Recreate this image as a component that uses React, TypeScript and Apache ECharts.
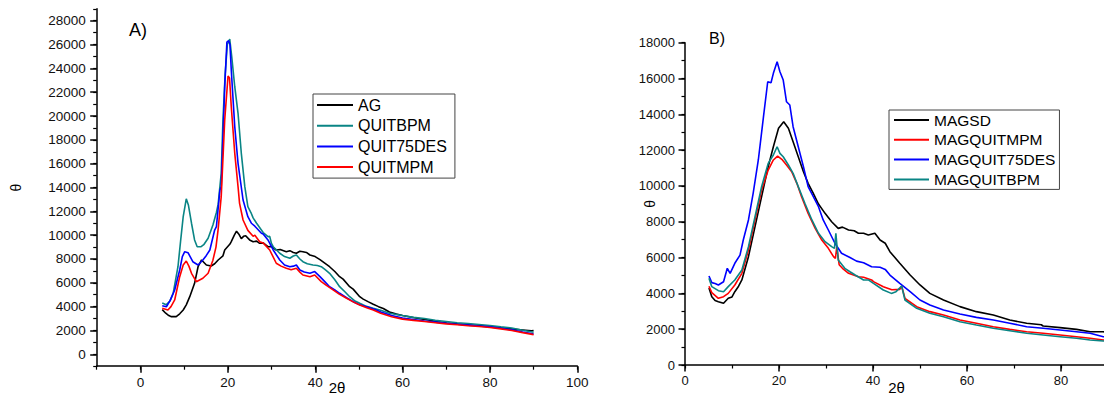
import React, { useEffect, useRef } from "react";
import * as echarts from "echarts";

// ---------- Panel A data ----------
const AG: [number, number][] = [
  [5.0, 3750], [5.8, 3450], [6.5, 3250], [7.1, 3160], [8.2, 3160], [9.0, 3400], [9.8, 3720], [10.5, 4150],
  [11.3, 4835], [12.4, 5955], [13.2, 7350], [14.0, 7915], [15.1, 7495], [16.2, 7410], [17.0, 7600], [17.8, 7915],
  [18.9, 8265], [19.3, 8755], [20.5, 9250], [20.8, 9450], [21.5, 10000], [22.0, 10330], [22.6, 10050], [23.1, 9700],
  [23.6, 9900], [24.1, 9950], [25.0, 9600], [25.8, 9450], [26.6, 9500], [27.3, 9315], [28.1, 9350], [29.2, 9030],
  [30.0, 9050], [31.1, 8755], [32.0, 8800], [33.4, 8610], [34.2, 8700], [35.0, 8550], [35.7, 8480], [36.5, 8650],
  [37.2, 8610], [38.0, 8550], [38.8, 8335], [40.0, 8200], [41.1, 7950], [42.2, 7650], [43.3, 7350], [44.5, 6950],
  [45.6, 6515], [46.4, 6310], [47.9, 5675], [48.7, 5470], [50.2, 4835], [51.0, 4630], [52.2, 4400], [53.3, 4200],
  [54.5, 4000], [55.6, 3845], [57.0, 3550], [58.6, 3370], [60.0, 3250], [62.4, 3090], [64.0, 2980], [66.3, 2850],
  [68.0, 2720], [70.1, 2620], [72.0, 2560], [73.9, 2500], [75.5, 2460], [77.7, 2390], [79.5, 2330], [81.5, 2250],
  [83.5, 2180], [85.3, 2120], [87.5, 2040], [89.5, 1970], [90.0, 2000],
];
const QUITBPM: [number, number][] = [
  [5.0, 4300], [5.9, 4150], [6.8, 4500], [7.5, 5120], [8.6, 7350], [9.2, 9500], [9.8, 11550], [10.5, 13050],
  [11.0, 12500], [11.7, 11000], [12.4, 9600], [13.0, 9030], [13.9, 9030], [14.5, 9200], [15.5, 9735], [16.6, 10850],
  [17.4, 11900], [17.8, 12600], [18.5, 15190], [18.9, 19665], [19.4, 23500], [19.9, 26000], [20.45, 26450], [20.9, 25000],
  [21.6, 22460], [22.35, 20230], [23.1, 16870], [23.9, 14070], [24.6, 12390], [25.3, 11900], [25.8, 11450], [26.6, 10995],
  [28.1, 10220], [29.2, 9870], [29.6, 9900], [30.0, 9300], [30.4, 9030], [31.9, 8480], [33.0, 8200], [34.2, 8060],
  [35.0, 8250], [35.7, 8335], [36.5, 8000], [37.2, 7770], [38.2, 7600], [39.5, 7495], [40.5, 7450], [41.4, 7350],
  [42.3, 7100], [43.3, 6800], [44.5, 6250], [45.6, 5675], [46.8, 5250], [47.9, 4835], [49.0, 4500], [50.2, 4280],
  [51.5, 4050], [53.3, 3860], [55.0, 3700], [57.0, 3450], [60.0, 3250], [62.5, 3100], [65.0, 3000], [67.5, 2850],
  [70.0, 2750], [72.5, 2650], [75.0, 2580], [77.5, 2500], [80.0, 2420], [82.5, 2300], [85.0, 2200], [87.5, 2020],
  [90.0, 1850],
];
const QUIT75DES: [number, number][] = [
  [5.0, 4080], [5.95, 3990], [6.8, 4500], [7.85, 5400], [9.0, 7075], [9.6, 8200], [10.15, 8610], [10.9, 8530],
  [12.0, 7770], [13.2, 7495], [14.3, 7915], [15.1, 8300], [15.9, 8755], [17.0, 10430], [17.4, 10710], [18.2, 13790],
  [18.5, 14070], [19.3, 22460], [19.8, 26200], [20.2, 26320], [20.5, 26000], [20.8, 23860], [21.6, 19100], [22.35, 16030],
  [23.5, 12950], [24.6, 11550], [25.4, 11000], [26.2, 10750], [27.7, 10155], [28.1, 10100], [29.2, 9595], [30.4, 8755],
  [31.9, 7915], [33.0, 7500], [34.2, 7350], [35.0, 7400], [35.7, 7495], [36.5, 7075], [37.5, 6900], [38.8, 6800],
  [39.9, 6940], [41.1, 6515], [42.2, 6100], [43.3, 5675], [44.5, 5400], [45.6, 5120], [47.2, 4750], [48.7, 4415],
  [50.2, 4150], [51.8, 3995], [54.0, 3720], [55.0, 3550], [57.5, 3250], [60.0, 3050], [62.5, 2920], [65.0, 2800],
  [67.5, 2700], [70.0, 2600], [72.5, 2520], [75.0, 2450], [77.5, 2380], [80.0, 2300], [82.5, 2180], [85.0, 2050],
  [87.5, 1870], [90.0, 1700],
];
const QUITMPM: [number, number][] = [
  [5.0, 3860], [6.3, 3720], [7.0, 4000], [7.85, 4560], [9.0, 6515], [9.8, 7500], [10.5, 7830], [11.1, 7400],
  [11.7, 6800], [12.8, 6095], [14.3, 6380], [15.5, 6800], [16.6, 7900], [17.3, 9000], [17.8, 10500], [18.5, 13230],
  [19.3, 19665], [20.06, 23360], [20.4, 23200], [20.8, 20780], [21.6, 16870], [22.35, 14070], [22.7, 12670], [23.5, 11270],
  [24.6, 10400], [25.8, 9900], [26.2, 10000], [27.3, 9450], [28.1, 9350], [29.6, 8755], [31.1, 7640], [32.2, 7400],
  [33.4, 7220], [34.5, 7100], [35.7, 7220], [36.5, 6900], [37.2, 6655], [38.8, 6515], [39.9, 6655], [41.4, 6095],
  [42.5, 5800], [44.1, 5400], [45.5, 5050], [47.2, 4700], [48.7, 4400], [50.2, 4140], [51.8, 3900], [53.3, 3720],
  [55.0, 3450], [57.5, 3150], [60.0, 2950], [62.5, 2850], [65.0, 2750], [67.5, 2650], [70.0, 2550], [72.5, 2480],
  [75.0, 2400], [77.5, 2330], [80.0, 2250], [82.5, 2130], [85.0, 2000], [87.5, 1820], [90.0, 1650],
];

// ---------- Panel B data ----------
const MAGSD: [number, number][] = [
  [5.1, 4300], [5.7, 3815], [6.4, 3600], [7.1, 3535], [8.2, 3445], [9.2, 3725], [10.0, 3800], [10.6, 4095],
  [11.4, 4400], [12.1, 4750], [13.5, 6050], [14.9, 7725], [16.3, 9400], [17.7, 11070], [18.8, 12190], [19.9, 13220],
  [21.0, 13590], [22.0, 13220], [23.0, 12470], [24.1, 11630], [25.2, 10795], [26.2, 10145], [27.3, 9590], [28.4, 8990],
  [29.8, 8470], [31.2, 8000], [32.6, 7630], [33.5, 7700], [34.8, 7540], [36.0, 7500], [36.9, 7355], [38.0, 7355],
  [39.0, 7260], [40.4, 7355], [41.5, 6980], [42.6, 6800], [43.6, 6330], [45.7, 5680], [47.9, 5025], [50.0, 4470],
  [52.1, 4000], [55.0, 3630], [58.5, 3260], [62.0, 2980], [65.6, 2790], [69.1, 2510], [72.7, 2330], [75.8, 2250],
  [76.2, 2180], [79.8, 2085], [83.3, 1990], [86.2, 1860], [89.0, 1860], [90.0, 1800],
];
const MAGQUITMPM: [number, number][] = [
  [5.1, 4400], [5.7, 4040], [7.1, 3725], [8.2, 3815], [9.2, 4000], [10.6, 4470], [12.1, 5120], [13.5, 6420],
  [14.9, 8100], [16.3, 9775], [17.7, 10890], [18.8, 11450], [19.7, 11670], [20.6, 11490], [21.6, 11170], [22.7, 10795],
  [23.8, 10145], [24.8, 9400], [26.2, 8470], [27.7, 7630], [29.1, 6980], [30.5, 6515], [31.6, 6050], [32.0, 5950],
  [32.3, 6600], [32.8, 5600], [33.5, 5400], [34.8, 5120], [36.9, 4930], [38.0, 4900], [39.7, 4750], [40.1, 4655],
  [42.2, 4375], [44.0, 4200], [45.7, 4225], [46.1, 4400], [46.8, 3725], [49.3, 3260], [52.1, 2980], [55.0, 2790],
  [58.5, 2510], [62.0, 2330], [65.6, 2140], [69.1, 1990], [72.7, 1860], [76.2, 1770], [79.8, 1675], [83.3, 1580],
  [86.2, 1490], [89.0, 1400], [90.0, 1380],
];
const MAGQUIT75DES: [number, number][] = [
  [5.1, 4970], [5.7, 4600], [6.4, 4550], [7.1, 4470], [8.2, 4650], [9.0, 5400], [9.6, 5120], [10.6, 5680],
  [11.7, 6140], [12.4, 6980], [13.5, 8100], [14.5, 9590], [15.6, 11450], [16.7, 13870], [17.6, 15820], [18.3, 15760],
  [18.8, 16290], [19.6, 16940], [20.2, 16380], [20.9, 15915], [21.6, 14700], [22.3, 14520], [23.0, 13310], [24.1, 12190],
  [25.2, 11070], [26.2, 9960], [27.3, 9400], [28.4, 8840], [29.4, 8100], [30.5, 7540], [31.9, 6800], [33.3, 6240],
  [35.1, 6000], [36.5, 5800], [38.0, 5715], [39.7, 5490], [41.5, 5455], [42.6, 5340], [43.6, 5025], [45.7, 4560],
  [47.9, 4095], [50.0, 3630], [52.1, 3350], [55.0, 3070], [58.5, 2850], [62.0, 2660], [65.6, 2510], [69.1, 2330],
  [72.7, 2140], [76.2, 2050], [79.8, 1955], [83.3, 1860], [86.2, 1770], [89.0, 1580], [90.0, 1550],
];
const MAGQUITBPM: [number, number][] = [
  [5.1, 4850], [5.7, 4375], [7.1, 4150], [8.2, 4095], [9.2, 4375], [10.6, 4750], [12.1, 5305], [13.5, 6610],
  [14.9, 8280], [16.3, 9960], [17.7, 11260], [18.8, 11730], [19.6, 12190], [20.2, 11820], [20.9, 11630], [22.0, 11170],
  [23.0, 10705], [24.1, 9960], [25.5, 9030], [27.0, 8100], [28.4, 7355], [29.8, 6890], [31.2, 6610], [31.8, 6515],
  [32.1, 7355], [32.6, 5865], [34.0, 5400], [35.1, 5210], [36.2, 5025], [38.0, 4750], [39.0, 4750], [40.1, 4560],
  [42.2, 4190], [43.9, 4000], [44.9, 4095], [46.1, 4410], [46.8, 3630], [49.3, 3165], [52.1, 2885], [55.0, 2700],
  [58.5, 2420], [62.0, 2235], [65.6, 2050], [69.1, 1915], [72.7, 1770], [76.2, 1675], [79.8, 1580], [83.3, 1490],
  [86.2, 1400], [89.0, 1340], [90.0, 1320],
];

// ---------- tick labels ----------
const xLabelsA = [0, 20, 40, 60, 80, 100];
const yLabelsA = [0, 2000, 4000, 6000, 8000, 10000, 12000, 14000, 16000, 18000, 20000, 22000, 24000, 26000, 28000];
const xLabelsB = [0, 20, 40, 60, 80];
const yLabelsB = [0, 2000, 4000, 6000, 8000, 10000, 12000, 14000, 16000, 18000];

const FONT = "Liberation Sans";
const BLACK = "#000000";
const TEAL = "#0a8585";
const BLUE = "#0000ff";
const RED = "#ff0000";

const axisLineStyle = { color: "#000", width: 1.5 };
const plain = (v: number) => String(v);
const G = { containLabel: false, outerBoundsMode: "none" };

function mainX(grid: number, min: number, max: number, labels: number[], fs: number, nameGap: number) {
  return {
    type: "value", gridIndex: grid, min, max, position: "bottom",
    name: "2θ", nameLocation: "middle", nameGap, nameMoveOverlap: false,
    nameTextStyle: { fontFamily: FONT, fontSize: 15, color: "#000" },
    axisLine: { show: true, onZero: false, lineStyle: axisLineStyle },
    axisTick: { show: false },
    axisLabel: { show: true, customValues: labels, margin: 9, fontFamily: FONT, fontSize: fs, color: "#111", formatter: plain },
    splitLine: { show: false },
  };
}
function mainY(grid: number, min: number, max: number, labels: number[], fs: number, nameGap: number, margin: number) {
  return {
    type: "value", gridIndex: grid, min, max, position: "left",
    name: "θ", nameLocation: "middle", nameGap, nameRotate: 90, nameMoveOverlap: false,
    nameTextStyle: { fontFamily: FONT, fontSize: 14, color: "#000" },
    axisLine: { show: true, onZero: false, lineStyle: axisLineStyle },
    axisTick: { show: false },
    axisLabel: { show: true, customValues: labels, margin, fontFamily: FONT, fontSize: fs, color: "#111", formatter: plain },
    splitLine: { show: false },
  };
}
const hiddenAxis = (grid: number) => ({ type: "value", gridIndex: grid, show: false, min: 0, max: 1 });
function tickAxis(grid: number, min: number, max: number, interval: number, w: number) {
  return {
    type: "value", gridIndex: grid, min, max, interval,
    axisLine: { show: false }, axisTick: { show: false }, axisLabel: { show: false },
    splitLine: { show: true, lineStyle: { color: "#000", width: w } },
  };
}

// tick strips: small grids whose split lines act as axis ticks
type Strip = { grid: any; dir: "x" | "y"; min: number; max: number; interval: number; w: number };
const strips: Strip[] = [
  // panel A
  { grid: { left: 90.2, top: 20.7, width: 6.5, height: 333.6 }, dir: "y", min: 0, max: 28000, interval: 2000, w: 1.5 },
  { grid: { left: 93.2, top: 8.8, width: 3.5, height: 357.4 }, dir: "y", min: -1000, max: 29000, interval: 1000, w: 1.2 },
  { grid: { left: 140.7, top: 366.2, width: 436.6, height: 6.5 }, dir: "x", min: 0, max: 100, interval: 20, w: 1.5 },
  { grid: { left: 96.7, top: 366.2, width: 480.6, height: 3.5 }, dir: "x", min: -10, max: 100, interval: 10, w: 1.2 },
  // panel B
  { grid: { left: 678.5, top: 42.7, width: 6.5, height: 322.3 }, dir: "y", min: 0, max: 18000, interval: 2000, w: 1.5 },
  { grid: { left: 681.5, top: 42.7, width: 3.5, height: 322.3 }, dir: "y", min: 0, max: 18000, interval: 1000, w: 1.2 },
  { grid: { left: 685, top: 365, width: 376, height: 6.5 }, dir: "x", min: 0, max: 80, interval: 20, w: 1.5 },
  { grid: { left: 685, top: 365, width: 423, height: 3.5 }, dir: "x", min: 0, max: 90, interval: 10, w: 1.2 },
];

function line(name: string, data: [number, number][], color: string, axis: number) {
  return {
    type: "line", name, data, xAxisIndex: axis, yAxisIndex: axis,
    symbol: "none", showSymbol: false, smooth: false,
    color, lineStyle: { color, width: 1.6 },
  };
}

function legendCfg(names: string[], left: number, top: number, fs: number, gap: number, padding: number[], textGap: number, iw: number) {
  return {
    show: true, data: names, orient: "vertical", left, top,
    icon: "rect", itemWidth: iw, itemHeight: 2, itemGap: gap, itemTextGap: textGap,
    padding, borderColor: "#444", borderWidth: 1, backgroundColor: "#fff",
    selectedMode: false,
    textStyle: { fontFamily: FONT, fontSize: fs, color: "#000", lineHeight: fs },
  };
}

export default function App() {
  const ref = useRef<HTMLDivElement>(null);
  useEffect(() => {
    if (!ref.current) return;
    const chart = echarts.init(ref.current, undefined, { renderer: "svg" });
    const grids: any[] = [
      { ...G, left: 96.7, top: 8.8, width: 480.6, height: 357.4 },
      { ...G, left: 685, top: 42.7, width: 423, height: 322.3 },
    ];
    const xAxes: any[] = [
      mainX(0, -10, 100, xLabelsA, 13.5, 14),
      mainX(1, 0, 90, xLabelsB, 13, 15),
    ];
    const yAxes: any[] = [
      mainY(0, -1000, 29000, yLabelsA, 13.5, 74, 11),
      mainY(1, 0, 18000, yLabelsB, 13, 28, 10),
    ];
    strips.forEach((s) => {
      const gi = grids.length;
      grids.push({ ...G, ...s.grid });
      if (s.dir === "y") {
        xAxes.push(hiddenAxis(gi));
        yAxes.push(tickAxis(gi, s.min, s.max, s.interval, s.w));
      } else {
        xAxes.push(tickAxis(gi, s.min, s.max, s.interval, s.w));
        yAxes.push(hiddenAxis(gi));
      }
    });
    chart.setOption({
      animation: false,
      backgroundColor: "#fff",
      title: [
        { text: "A)", left: 129, top: 21, padding: 0, textStyle: { fontFamily: FONT, fontSize: 18, fontWeight: "normal", color: "#000" } },
        { text: "B)", left: 709, top: 30, padding: 0, textStyle: { fontFamily: FONT, fontSize: 16, fontWeight: "normal", color: "#000" } },
      ],
      grid: grids,
      xAxis: xAxes,
      yAxis: yAxes,
      legend: [
        legendCfg(["AG", "QUITBPM", "QUIT75DES", "QUITMPM"], 313, 94, 16, 4.7, [3, 8, 3, 4], 3, 36),
        legendCfg(["MAGSD", "MAGQUITMPM", "MAGQUIT75DES", "MAGQUITBPM"], 889, 110, 15.5, 3.8, [2, 4, 2, 5], 4, 35),
      ],
      series: [
        line("AG", AG, BLACK, 0),
        line("QUITBPM", QUITBPM, TEAL, 0),
        line("QUIT75DES", QUIT75DES, BLUE, 0),
        line("QUITMPM", QUITMPM, RED, 0),
        line("MAGSD", MAGSD, BLACK, 1),
        line("MAGQUITMPM", MAGQUITMPM, RED, 1),
        line("MAGQUIT75DES", MAGQUIT75DES, BLUE, 1),
        line("MAGQUITBPM", MAGQUITBPM, TEAL, 1),
      ],
    });
    return () => chart.dispose();
  }, []);
  return (
    <div style={{ position: "fixed", left: 0, top: 0, width: 1104, height: 396, overflow: "hidden", background: "#fff" }}>
      <div ref={ref} style={{ width: 1112, height: 396 }} />
    </div>
  );
}
